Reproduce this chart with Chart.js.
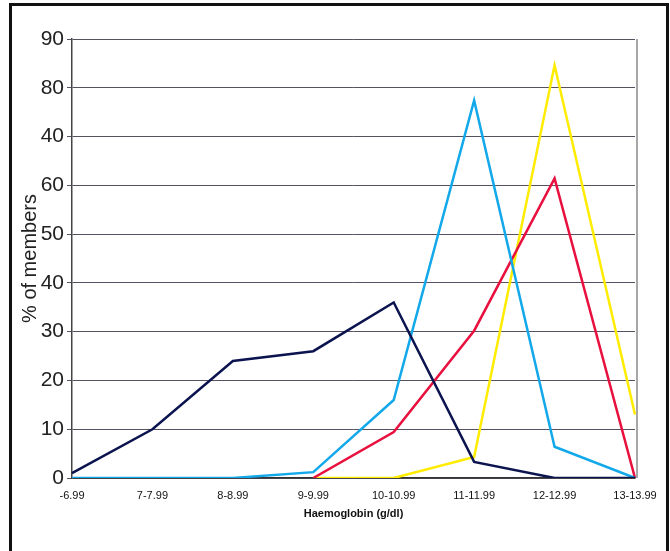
<!DOCTYPE html>
<html>
<head>
<meta charset="utf-8">
<script src="https://cdn.jsdelivr.net/npm/chart.js@4.4.1/dist/chart.umd.min.js"></script>
<style>
  html, body { margin: 0; padding: 0; background: #fff; }
  body { width: 670px; height: 551px; position: relative; overflow: hidden; }
  #frame { position: absolute; left: 9px; top: 3px; width: 654px; height: 600px; border: 3px solid #111; }
  #chart { position: absolute; left: 0; top: 0; }
</style>
</head>
<body>
<div id="frame"></div>
<canvas id="chart" width="670" height="551"></canvas>
<script>
// Haemoglobin bands along the x axis
const categories = ["-6.99", "7-7.99", "8-8.99", "9-9.99", "10-10.99", "11-11.99", "12-12.99", "13-13.99"];

// % of members in each band, one array per line
const navySeries = [1, 10, 24, 26, 36, 3.3, 0, 0];
const blueSeries = [0, 0, 0, 1.2, 16, 77.4, 6.4, 0];
const redSeries = [null, null, null, 0, 9.4, 30.2, 61.4, 0];
const yellowSeries = [null, null, null, 0, 0, 4.3, 84.6, 13];

// y tick labels as printed (the 70 mark reads "40" on the original)
const yTickValues = [0, 10, 20, 30, 40, 50, 60, 70, 80, 90];
const yTickLabels = ["0", "10", "20", "30", "40", "50", "60", "40", "80", "90"];

// draws the right edge of the plot area
const plotFrame = {
    id: 'plotFrame',
    afterDatasetsDraw(chart) {
        const a = chart.chartArea;
        const ctx = chart.ctx;
        ctx.save();
        ctx.strokeStyle = '#8a8a8a';
        ctx.lineWidth = 1.5;
        ctx.beginPath();
        ctx.moveTo(a.right + 2, a.top);
        ctx.lineTo(a.right + 2, a.bottom);
        ctx.stroke();
        ctx.restore();
    }
};

function lineSet(data, color) {
    return {
        data: data,
        borderColor: color,
        borderWidth: 2.5,
        pointRadius: 0,
        tension: 0,
        fill: false
    };
}

const ctx = document.getElementById('chart').getContext('2d');
new Chart(ctx, {
    type: 'line',
    data: {
        labels: categories,
        datasets: [
            lineSet(navySeries, '#0c1450'),
            lineSet(blueSeries, '#12a8ea'),
            lineSet(redSeries, '#e8103e'),
            lineSet(yellowSeries, '#ffec00')
        ]
    },
    options: {
        responsive: false,
        animation: false,
        devicePixelRatio: 1,
        layout: { padding: { left: 18, right: 35, top: 39, bottom: 26 } },
        plugins: { legend: { display: false }, tooltip: { enabled: false } },
        scales: {
            x: {
                offset: false,
                grid: { display: false },
                border: { display: true, color: '#333', width: 1.5 },
                ticks: {
                    color: '#111',
                    font: { family: 'Liberation Sans, Arial', size: 11 },
                    padding: 3,
                    maxRotation: 0,
                    autoSkip: false
                },
                title: {
                    display: true,
                    text: 'Haemoglobin (g/dl)',
                    color: '#111',
                    font: { family: 'Liberation Sans, Arial', size: 11, weight: 'bold' },
                    padding: { top: 4, bottom: 4 }
                },
                afterFit: (scale) => { scale.height = 47; }
            },
            y: {
                min: 0,
                max: 90,
                afterBuildTicks: (scale) => { scale.ticks = yTickValues.map(v => ({ value: v })); },
                grid: { color: '#565060', lineWidth: 1, tickLength: 5 },
                border: { display: true, color: '#444', width: 1.5 },
                ticks: {
                    color: '#222',
                    font: { family: 'Liberation Sans, Arial', size: 21 },
                    padding: 3,
                    callback: (value) => yTickLabels[yTickValues.indexOf(value)]
                },
                title: {
                    display: true,
                    text: '% of members',
                    color: '#222',
                    font: { family: 'Liberation Sans, Arial', size: 20 },
                    padding: 0
                },
                afterFit: (scale) => { scale.width = 54; }
            }
        }
    },
    plugins: [plotFrame]
});
</script>
</body>
</html>
